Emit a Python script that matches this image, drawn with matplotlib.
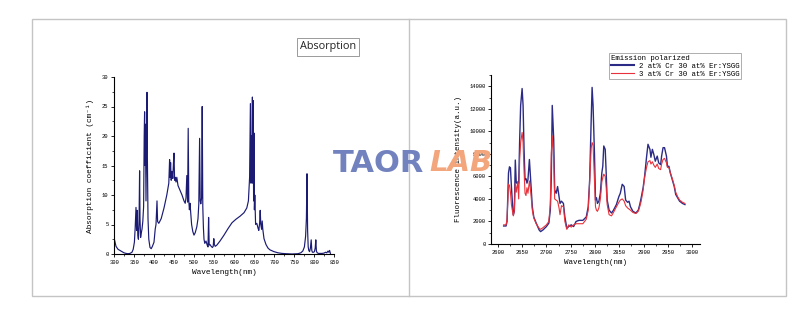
import matplotlib
matplotlib.use("Agg")
import matplotlib.pyplot as plt
from matplotlib.patches import Rectangle
from matplotlib.lines import Line2D
from matplotlib.ticker import MultipleLocator

# absorption spectrum (nm, cm^-1)
abs_wl = [300, 302, 305, 310, 315, 320, 325, 330, 335, 340, 345, 348, 351, 353, 355,
          356.5, 358, 359.5, 361, 362.5, 364, 365, 366.5, 368, 370, 372, 374, 375.5,
          376.5, 377.5, 378.5, 380, 381.5, 382.5, 383.5, 385, 387, 390, 393, 396, 400,
          403, 405, 407.5, 409, 412, 418, 425, 432, 437, 439, 440, 441.5, 443, 445, 447,
          449, 450, 451.5, 453, 455, 457, 460, 465, 470, 475, 478, 480, 482, 484, 485.5,
          487, 488.5, 490, 492, 494, 497, 500, 503, 507, 510, 512, 514, 515.5, 517, 519,
          520.5, 522, 523.5, 525, 527, 530, 533, 535, 536.5, 538, 540, 543, 546, 548,
          549.5, 551, 553, 557, 565, 575, 585, 595, 605, 615, 625, 632, 636, 639, 641,
          642.5, 644, 645, 646, 647, 648, 649, 650, 651, 652, 654, 657, 660, 662, 664,
          665.5, 667, 669, 670.5, 672, 675, 680, 685, 690, 700, 710, 720, 730, 745, 760,
          767, 772, 776, 779, 781, 782.5, 784, 785.5, 787, 789, 791, 793, 794.5, 796,
          799, 801, 803, 804.5, 806, 808, 811, 815, 820, 825, 829, 832, 835, 837, 839, 841]
abs_coef = [2.7, 2.2, 1.3, 0.8, 0.6, 0.4, 0.2, 0.1, 0.05, 0.1, 0.3, 0.8, 2.0, 4.5, 7.9,
            4.0, 7.4, 3.2, 2.5, 5.0, 14.1, 6.0, 2.8, 3.5, 4.2, 5.5, 8.0, 20.0,
            24.1, 15.0, 22.0, 9.0, 20.0, 27.4, 16.0, 6.0, 2.5, 1.1, 0.9, 1.3, 2.0,
            4.2, 5.0, 9.0, 5.5, 5.2, 6.0, 7.8, 10.0, 12.0, 16.0, 13.0, 15.5, 12.5, 14.0, 12.8,
            16.0, 17.1, 12.5, 13.0, 12.2, 13.0, 11.6, 10.8, 10.0, 9.0, 8.6, 9.5, 13.3, 8.8, 21.3,
            9.0, 7.5, 8.6, 6.8, 5.0, 3.8, 3.2, 3.6, 4.6, 6.0, 8.5, 19.6, 9.0, 8.5, 9.5,
            25.0, 8.0, 4.5, 2.5, 1.8, 2.2, 1.5, 1.2, 6.2, 1.5, 1.6, 1.3, 1.1, 1.3,
            2.6, 1.6, 1.3, 1.5, 2.2, 3.2, 4.3, 5.3, 5.9, 6.4, 7.0, 7.8, 9.0, 13.0, 25.5,
            12.0, 20.0, 13.0, 26.6, 12.0, 26.0, 9.0, 20.5, 7.5, 10.0, 5.0, 5.2, 4.4, 4.0, 5.2,
            7.4, 5.0, 4.2, 5.6, 4.2, 2.6, 1.6, 1.0, 0.7, 0.4, 0.2, 0.1, 0.05, 0.0, 0.05,
            0.2, 0.5, 1.2, 3.0, 6.0, 13.6, 4.0, 1.2, 0.6, 0.4, 1.0, 2.4, 0.6, 0.3,
            0.3, 0.4, 1.0, 2.4, 0.5, 0.2, 0.1, 0.1, 0.1, 0.15, 0.3, 0.2, 0.5, 0.3, 0.6, 0.1]

# polarized emission (nm, a.u.)
em_wl = [2612, 2617, 2619, 2622, 2624, 2626, 2628, 2631, 2632, 2634, 2636, 2638, 2641,
         2643, 2645, 2647, 2650, 2652, 2654, 2656, 2658, 2660, 2662, 2665, 2668, 2671,
         2674, 2679, 2685, 2688, 2693, 2700, 2705, 2708, 2710, 2712, 2715, 2717, 2720,
         2723, 2726, 2728, 2731, 2735, 2738, 2742, 2746, 2751, 2756, 2761, 2767, 2775,
         2782, 2786, 2789, 2792, 2794, 2796, 2799, 2801, 2803, 2805, 2808, 2811, 2814,
         2816, 2818, 2821, 2823, 2825, 2829, 2834, 2838, 2844, 2849, 2852, 2856, 2860,
         2863, 2867, 2870, 2873, 2878, 2884, 2889, 2892, 2895, 2899, 2902, 2906, 2909,
         2913, 2915, 2918, 2921, 2924, 2928, 2931, 2935, 2937, 2940, 2943, 2947, 2949,
         2952, 2955, 2959, 2963, 2966, 2970, 2974, 2980, 2985]
em_2cr = [1600, 1600, 2000, 6300, 6850, 6750, 5100, 3000, 2600, 2900, 7450, 5400, 5500,
          5400, 9300, 12300, 13800, 12300, 8400, 5700, 5800, 5400, 5700, 7500, 5400, 3300,
          2400, 1850, 1250, 1100, 1250, 1550, 1850, 3000, 5700, 12300, 9300, 4800, 4500,
          5100, 4200, 3600, 3800, 3600, 2400, 1400, 1550, 1700, 1550, 2000, 2100, 2100,
          2400, 3300, 5700, 10800, 13900, 12300, 7800, 3900, 4100, 3600, 3800, 4500, 6300,
          6900, 8700, 8400, 6300, 3900, 3000, 2750, 3000, 3500, 4200, 4500, 5300, 5100,
          3900, 3700, 3800, 3300, 2900, 2750, 3000, 3500, 4100, 5000, 6000, 7700, 8850,
          8400, 7700, 8400, 7950, 7350, 7800, 7200, 7050, 7800, 8550, 8550, 7800, 6900,
          6900, 6300, 5700, 5100, 4400, 4100, 3800, 3600, 3500]
em_3cr = [1700, 1700, 2200, 5300, 5200, 4600, 3500, 2700, 2500, 3000, 5400, 4600, 5500,
          4000, 7500, 9000, 9900, 9000, 6500, 4500, 4300, 5000, 4500, 5600, 4500, 3000,
          2300, 1800, 1400, 1300, 1450, 1700, 2000, 3500, 8000, 9600, 7500, 4000, 3900,
          3800, 3200, 2600, 3400, 3300, 2000, 1300, 1700, 1500, 1700, 1800, 1800, 1800,
          2200, 3000, 5500, 8500, 9000, 8800, 5500, 3300, 3000, 2900, 3200, 4000, 5500,
          5900, 6200, 6000, 5000, 3500, 2600, 2500, 2800, 3300, 3700, 3900, 4000, 3800,
          3400, 3200, 3100, 3000, 2800, 2700, 2900, 3300, 3800, 4800, 5900, 6800, 7300,
          7400, 7100, 7300, 7000, 6800, 7100, 6700, 6600, 7100, 7500, 7600, 7200, 6800,
          6800, 6300, 5800, 5200, 4600, 4200, 3900, 3700, 3600]

W, H = 805, 328
mono = ["Liberation Mono", "DejaVu Sans Mono"]
plt.rcParams["font.family"] = mono
plt.rcParams["axes.linewidth"] = 0.8


def fig_box(x0, y0, x1, y1):
    # pixel box (top-left origin) -> figure fraction rect
    return [x0 / W, 1 - y1 / H, (x1 - x0) / W, (y1 - y0) / H]


def style_axes(ax):
    for side in ("top", "right"):
        ax.spines[side].set_visible(False)
    ax.tick_params(which="major", direction="out", length=2.5, width=0.6,
                   labelsize=4, pad=1.5)
    ax.tick_params(which="minor", direction="out", length=1.3, width=0.5)


fig = plt.figure(figsize=(W / 100, H / 100), dpi=100)

# frame around both panels
fig.patches.append(Rectangle((32 / W, 1 - 296 / H), (786 - 32) / W, (296 - 19) / H,
                             transform=fig.transFigure, fill=False,
                             edgecolor="#c4c4c4", linewidth=1.0))
fig.lines.append(Line2D([409 / W, 409 / W], [1 - 296 / H, 1 - 19 / H],
                        transform=fig.transFigure, color="#c4c4c4", linewidth=1.0))

# absorption panel
ax1 = fig.add_axes(fig_box(114, 77, 334, 254))
ax1.plot(abs_wl, abs_coef, color="#1b1b74", linewidth=0.85)
ax1.set_xlim(300, 850)
ax1.set_ylim(0, 30)
ax1.xaxis.set_major_locator(MultipleLocator(50))
ax1.xaxis.set_minor_locator(MultipleLocator(25))
ax1.yaxis.set_major_locator(MultipleLocator(5))
ax1.yaxis.set_minor_locator(MultipleLocator(2.5))
style_axes(ax1)
ax1.set_xlabel("Wavelength(nm)", fontsize=5.6, labelpad=3)
ax1.set_ylabel("Absorption coefficient (cm\u207b\u00b9)", fontsize=5.6, labelpad=6)

fig.text(328 / W, 1 - 47 / H, "Absorption", ha="center", va="center",
         fontsize=7.8, family="Open Sans", color="#222222",
         bbox=dict(boxstyle="square,pad=0.3", facecolor="white",
                   edgecolor="#9a9a9a", linewidth=0.7))

# emission panel
ax2 = fig.add_axes(fig_box(491, 75, 700, 244))
ax2.plot(em_wl, em_2cr, color="#2b2b86", linewidth=1.0,
         label="2 at% Cr 30 at% Er:YSGG")
ax2.plot(em_wl, em_3cr, color="#e8313a", linewidth=0.8,
         label="3 at% Cr 30 at% Er:YSGG")
ax2.set_xlim(2586, 3016)
ax2.set_ylim(0, 15000)
ax2.xaxis.set_major_locator(MultipleLocator(50))
ax2.xaxis.set_minor_locator(MultipleLocator(25))
ax2.yaxis.set_major_locator(MultipleLocator(2000))
ax2.yaxis.set_minor_locator(MultipleLocator(1000))
style_axes(ax2)
ax2.set_xlabel("Wavelength(nm)", fontsize=5.4, labelpad=3)
ax2.set_ylabel("Fluorescence intensity(a.u.)", fontsize=5.4, labelpad=5)

leg = ax2.legend(loc="upper left", bbox_to_anchor=(609 / W, 1 - 53 / H),
                 bbox_transform=fig.transFigure, title="Emission polarized",
                 fontsize=5.3, title_fontsize=5.3, frameon=True, fancybox=False,
                 borderpad=0.25, labelspacing=0.1, handlelength=3.2,
                 handletextpad=0.6, borderaxespad=0)
leg._legend_box.align = "left"
leg.get_frame().set_edgecolor("#9a9a9a")
leg.get_frame().set_linewidth(0.7)
leg.legend_handles[0].set_linewidth(1.5)

# watermark
fig.text(333 / W, 1 - 163 / H, "TAOR", ha="left", va="center", fontsize=22,
         fontweight="bold", family="DejaVu Sans", color="#7282bf", zorder=10)
fig.text(429 / W, 1 - 163 / H, "LAB", ha="left", va="center", fontsize=21,
         fontweight="bold", fontstyle="italic", family="DejaVu Sans",
         color="#f3a57c", zorder=10)

fig.savefig("out.png", dpi=100, facecolor="white")
